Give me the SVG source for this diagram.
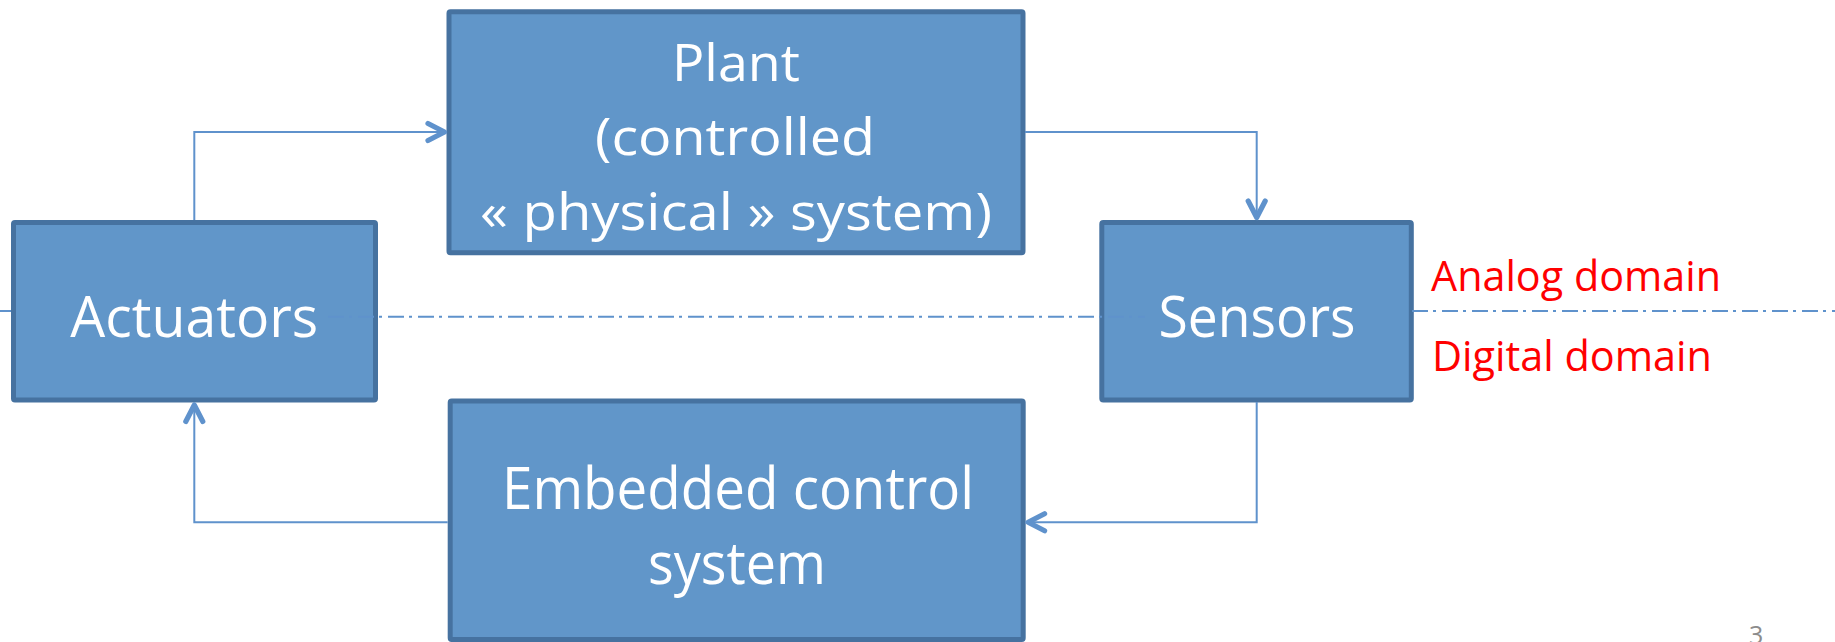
<svg xmlns="http://www.w3.org/2000/svg" width="1835" height="642" viewBox="0 0 1835 642">
  <style>
    .box { fill: #6196C9; stroke: #4672A0; stroke-width: 5; }
    .lbl { fill: #FFFFFF; font-family: "Open Sans", "Noto Sans", sans-serif; text-anchor: middle; }
    .wire { fill: none; stroke: #5F92CC; stroke-width: 2; }
    .axis { fill: none; stroke: #5F92CC; stroke-width: 2; stroke-dasharray: 16 5 3 6; }
    .domain { fill: #FF0000; font-family: "Open Sans", "Noto Sans", sans-serif; font-size: 42px; }
    .pageno { fill: #8C8C8C; font-family: "Open Sans", "Noto Sans", sans-serif; font-size: 25px; }
  </style>
  <defs>
    <marker id="chev" markerUnits="userSpaceOnUse" markerWidth="30" markerHeight="30" viewBox="-25 -15 30 30" refX="2.5" refY="0" orient="auto" overflow="visible">
      <path d="M-16.5,-8.5 L0,0 L-16.5,8.5" fill="none" stroke="#5F92CC" stroke-width="5.2" stroke-linecap="round" stroke-linejoin="round"/>
    </marker>
  </defs>
  <rect width="1835" height="642" fill="#FFFFFF"/>

  <!-- boxes -->
  <g id="plant">
    <rect class="box" x="449" y="11.7" width="574" height="241" rx="1.5"/>
    <text class="lbl" font-size="52" x="736" y="81" textLength="128" lengthAdjust="spacingAndGlyphs">Plant</text>
    <text class="lbl" font-size="52" x="735" y="155" textLength="280" lengthAdjust="spacingAndGlyphs">(controlled</text>
    <text class="lbl" font-size="52" x="736" y="230" textLength="512" lengthAdjust="spacingAndGlyphs">« physical » system)</text>
  </g>
  <g id="actuators">
    <rect class="box" x="13.5" y="222.5" width="362" height="177.5" rx="1.5"/>
    <text class="lbl" font-size="57" x="194.2" y="337.3" textLength="248" lengthAdjust="spacingAndGlyphs">Actuators</text>
  </g>
  <g id="sensors">
    <rect class="box" x="1101.8" y="222.5" width="309.5" height="177.5" rx="1.5"/>
    <text class="lbl" font-size="57" x="1257" y="336.7" textLength="197" lengthAdjust="spacingAndGlyphs">Sensors</text>
  </g>
  <g id="controller">
    <rect class="box" x="450.2" y="401" width="573" height="238.5" rx="1.5"/>
    <text class="lbl" font-size="58" x="738" y="509.3" textLength="472" lengthAdjust="spacingAndGlyphs">Embedded control</text>
    <text class="lbl" font-size="58" x="737" y="584.3" textLength="178" lengthAdjust="spacingAndGlyphs">system</text>
  </g>

  <!-- analog / digital boundary -->
  <g id="boundary">
    <line class="wire" x1="0" y1="311" x2="11" y2="311"/>
    <line class="axis" x1="328" y1="316.7" x2="1145" y2="316.7"/>
    <line class="axis" x1="1412" y1="311" x2="1835" y2="311"/>
    <text class="domain" x="1431" y="291" textLength="290" lengthAdjust="spacingAndGlyphs">Analog domain</text>
    <text class="domain" x="1432" y="370.7" textLength="280" lengthAdjust="spacingAndGlyphs">Digital domain</text>
  </g>

  <!-- control loop -->
  <g id="connectors">
    <path class="wire" d="M194.3,220 V132 H447" marker-end="url(#chev)"/>
    <path class="wire" d="M1025,132 H1256.7 V220" marker-end="url(#chev)"/>
    <path class="wire" d="M1256.7,402 V522.3 H1025.6" marker-end="url(#chev)"/>
    <path class="wire" d="M447.7,522.3 H194.3 V402.5" marker-end="url(#chev)"/>
  </g>

  <text class="pageno" x="1749" y="644">3</text>
</svg>
